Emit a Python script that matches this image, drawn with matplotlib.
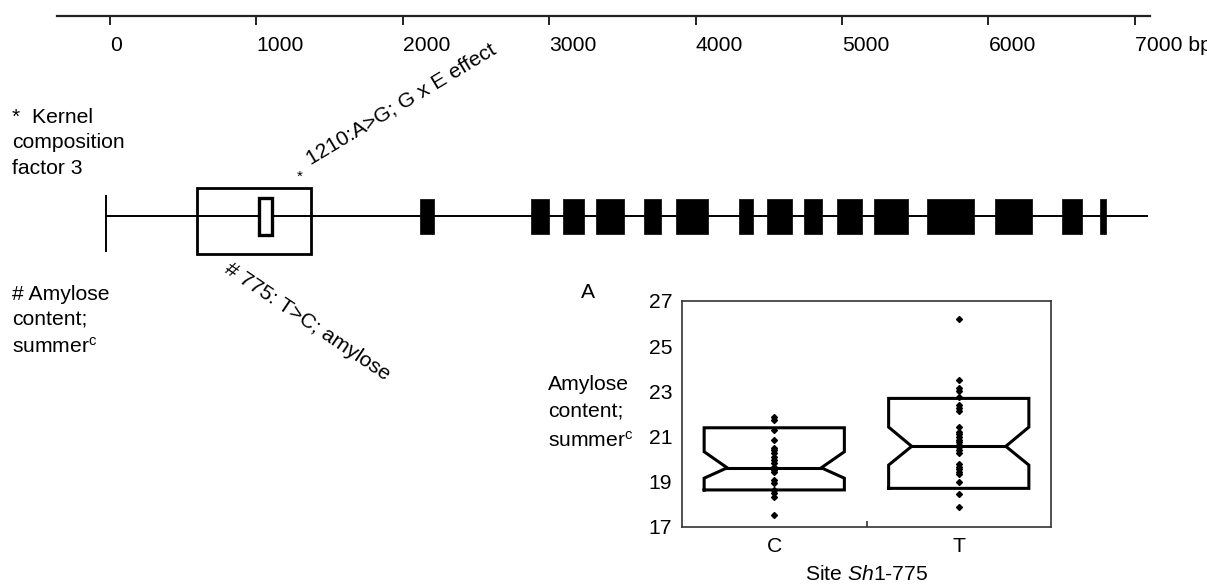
#!/usr/bin/env python3
"""
Sh1 gene model with the amylose notched box plot inset
"""
import matplotlib
matplotlib.use("Agg")
import matplotlib.pyplot as plt
from matplotlib.patches import Rectangle

FAMILY = 'Liberation Sans'
FS = 15.2
plt.rcParams['font.family'] = [FAMILY, 'DejaVu Sans']
plt.rcParams['mathtext.fontset'] = 'custom'
plt.rcParams['mathtext.rm'] = FAMILY
plt.rcParams['mathtext.it'] = FAMILY + ':italic'

# ---- gene model (bp) ----
scale_ticks = [0, 1000, 2000, 3000, 4000, 5000, 6000, 7000]
scale_labels = ['0', '1000', '2000', '3000', '4000', '5000', '6000', '7000 bp']
scale_start, scale_end = -362, 7104
gene_start, gene_end = -25, 7085
region_box = (591, 1376)      # large open box
marked_box = (1016, 1108)     # small open box
exon_starts = [2117, 2876, 3094, 3320, 3648, 3866, 4296, 4488, 4740, 4966,
               5219, 5581, 6045, 6503, 6762]
exon_ends = [2213, 2999, 3238, 3511, 3764, 4085, 4392, 4658, 4863, 5137,
             5451, 5902, 6298, 6639, 6803]
snp_star_bp = 1295
snp_star_label = '1210:A>G; G x E effect'
snp_hash_bp = 775
snp_hash_label = '# 775: T>C; amylose'

# ---- inset box plot ----
groups = ['C', 'T']
amylose_C = [21.85, 21.73, 21.3, 20.85, 20.48, 20.41, 20.26, 20.11, 19.96,
             19.82, 19.67, 19.52, 19.45, 19.08, 18.93, 18.64, 18.49, 18.34, 17.53]
amylose_T = [26.19, 23.5, 23.14, 23.02, 22.74, 22.4, 22.25, 22.15, 21.44,
             21.22, 21.12, 21.0, 20.85, 20.75, 20.63, 20.53, 20.41, 20.26,
             19.79, 19.67, 19.55, 19.45, 19.35, 19.0, 18.45, 17.9]
box_q1 = [18.64, 18.71]
box_med = [19.62, 20.57]
box_q3 = [21.39, 22.69]
box_cilo = [19.16, 19.74]
box_cihi = [20.33, 21.42]
y_ticks = [17, 19, 21, 23, 25, 27]

W, H = 1207, 584
em_px = FS * 100 / 72


def spacing(pitch_px):
    # matplotlib line pitch is about 0.9 em per unit of linespacing here
    return pitch_px / (0.9 * em_px)


fig = plt.figure(figsize=(W / 100, H / 100), dpi=100)

# full-figure axes: x in bp, y in pixel rows
px_per_bp = 0.1464
x0 = -110 / px_per_bp
x1 = x0 + W / px_per_bp
ax = fig.add_axes([0, 0, 1, 1])
ax.set_xlim(x0, x1)
ax.set_ylim(H, 0)
ax.axis('off')

# scale bar on top
ax_s = fig.add_axes([0, 1 - 16 / H, 1, 1e-4])
ax_s.set_xlim(x0, x1)
ax_s.patch.set_visible(False)
for side in ['top', 'left', 'right']:
    ax_s.spines[side].set_visible(False)
ax_s.spines['bottom'].set_bounds(scale_start, scale_end)
ax_s.spines['bottom'].set_linewidth(1.6)
ax_s.spines['bottom'].set_color('#222222')
ax_s.set_yticks([])
ax_s.set_xticks(scale_ticks)
ax_s.set_xticklabels(scale_labels, fontsize=FS)
ax_s.tick_params(axis='x', direction='out', length=6.5, width=1.4,
                 color='#222222', pad=8)
for lbl in ax_s.get_xticklabels():
    lbl.set_ha('left')

# gene line, start mark, boxes, exons
line_y = 216
ax.plot([gene_start, gene_end], [line_y, line_y], color='black', lw=1.4, zorder=1)
ax.plot([gene_start, gene_start], [196, 251], color='black', lw=1.4)
ax.add_patch(Rectangle((region_box[0], 188), region_box[1] - region_box[0], 66,
                       facecolor='white', edgecolor='black', lw=2.0, zorder=2))
ax.plot([region_box[0], region_box[1]], [line_y, line_y], color='black', lw=1.4, zorder=3)
ax.add_patch(Rectangle((marked_box[0], 198), marked_box[1] - marked_box[0], 37,
                       facecolor='white', edgecolor='black', lw=2.4, zorder=4))
ax.broken_barh([(s, e - s) for s, e in zip(exon_starts, exon_ends)], (199, 35),
               facecolors='black', edgecolor='black', lw=0.5, zorder=2)

# SNP annotations
ax.text(snp_star_bp, 177, '*', fontsize=11, ha='center', va='center')
ax.text(snp_star_bp + 75, 165, snp_star_label, fontsize=FS, rotation=31,
        rotation_mode='anchor', ha='left', va='baseline')
ax.text(snp_hash_bp, 272, snp_hash_label, fontsize=FS, rotation=-34,
        rotation_mode='anchor', ha='left', va='baseline')

# side notes
fig.text(12 / W, 1 - 143 / H, '*  Kernel\ncomposition\nfactor 3', fontsize=FS,
         ha='left', va='center', linespacing=spacing(27))
fig.text(12 / W, 1 - 321 / H, '# Amylose\ncontent;\nsummer$^{\\rm c}$', fontsize=FS,
         ha='left', va='center', linespacing=spacing(27))
fig.text(588 / W, 1 - 293 / H, 'A', fontsize=FS, ha='center', va='center')

# inset notched box plot
left, right, top, bottom = 682, 1051, 301, 527
axb = fig.add_axes([left / W, 1 - bottom / H, (right - left) / W, (bottom - top) / H])
axb.set_xlim(0.5, 2.5)
axb.set_ylim(17, 27)
for sp in axb.spines.values():
    sp.set_color('#333333')
    sp.set_linewidth(1.2)

hw, nw = 0.38, 0.255
for i, vals in enumerate([amylose_C, amylose_T]):
    pos = i + 1
    q1, med, q3, lo, hi = box_q1[i], box_med[i], box_q3[i], box_cilo[i], box_cihi[i]
    xs = [pos - hw, pos + hw, pos + hw, pos + nw, pos + hw, pos + hw,
          pos - hw, pos - hw, pos - nw, pos - hw, pos - hw]
    ys = [q1, q1, lo, med, hi, q3, q3, hi, med, lo, q1]
    axb.plot(xs, ys, color='black', lw=2.2, solid_joinstyle='miter', zorder=2)
    axb.plot([pos - nw, pos + nw], [med, med], color='black', lw=2.2, zorder=2)
    axb.plot([pos] * len(vals), vals, 'D', ms=3.0, color='black', zorder=3)

axb.set_xticks([1, 2])
axb.set_xticklabels(groups, fontsize=FS)
axb.set_xticks([1.5], minor=True)
axb.tick_params(axis='x', which='major', length=0, pad=7.5)
axb.tick_params(axis='x', which='minor', direction='in', length=4, width=1.2,
                color='#333333')
axb.set_yticks(y_ticks)
axb.set_yticklabels([str(t) for t in y_ticks], fontsize=FS)
axb.tick_params(axis='y', length=0, pad=7)

fig.text(548 / W, 1 - 413 / H, 'Amylose\ncontent;\nsummer$^{\\rm c}$', fontsize=FS,
         ha='left', va='center', linespacing=spacing(29.5))
fig.text((left + right) / 2 / W, 1 - 575 / H, 'Site $\\it{Sh1}$-775', fontsize=FS,
         ha='center', va='center')

fig.savefig('out.png', dpi=100, facecolor='white')
